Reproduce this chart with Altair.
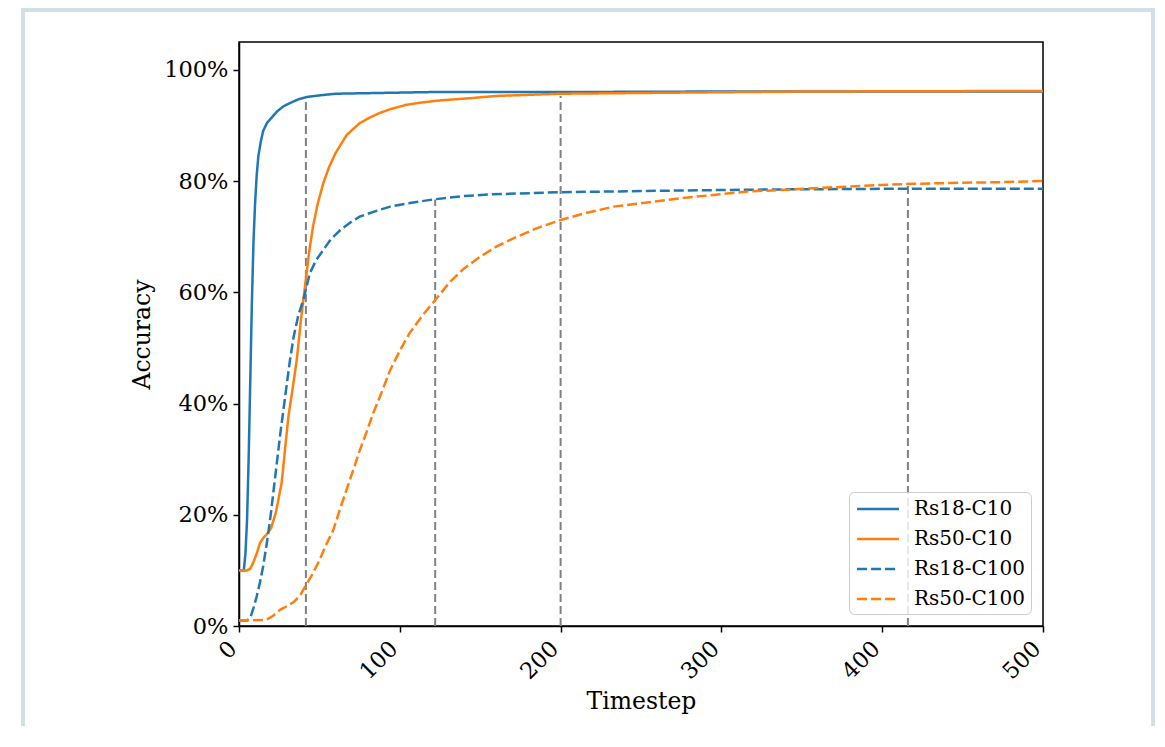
import altair as alt
import pandas as pd

series_names = ["Rs18-C10", "Rs50-C10", "Rs18-C100", "Rs50-C100"]
series_colors = ["#1f77b4", "#ff7f0e", "#1f77b4", "#ff7f0e"]
series_dashes = [[1, 0], [1, 0], [10, 4], [10, 4]]

rs18_c10_t = [0, 3, 4, 5, 6, 7, 8, 9, 10, 11, 12, 13.5, 15, 17.5, 20, 24, 28, 33, 37, 42, 50, 60, 80, 100, 120, 200, 300, 500]
rs18_c10_v = [10, 10, 13, 19, 30, 44, 58, 69, 76, 81, 84.4, 87, 89, 90.5, 91.3, 92.6, 93.5, 94.2, 94.7, 95.1, 95.4, 95.7, 95.8, 95.9, 96.0, 96.0, 96.1, 96.1]

rs50_c10_t = [0, 5, 7, 9, 11, 13, 15, 17, 20, 23, 26.5, 28.6, 30.7, 33, 36, 38.5, 41, 43.5, 46, 49, 52.4, 56, 60, 67, 75, 82, 88, 95, 104, 113, 125, 144, 160, 200, 275, 350, 500]
rs50_c10_v = [10, 10, 10.3, 11.5, 13, 14.9, 15.8, 16.4, 17.6, 20.5, 25.7, 31.7, 37.6, 42, 48, 55, 61, 67, 71.8, 76, 79.6, 82.5, 85, 88.3, 90.4, 91.5, 92.3, 93, 93.7, 94.1, 94.5, 94.9, 95.3, 95.7, 95.9, 96.1, 96.2]

rs18_c100_t = [0, 5, 7, 9, 11, 13, 15, 17, 18.2, 20, 21.3, 23, 24.5, 26, 27.6, 29.5, 31.7, 34, 37, 40, 44, 48, 52.4, 57, 63, 69, 75, 85, 94, 105, 121, 140, 156, 200, 275, 336, 400, 450, 500]
rs18_c100_v = [1, 1, 1.5, 3.2, 5.3, 7.8, 10.7, 14.3, 16.7, 20.6, 23.9, 28, 31.7, 35.3, 38.8, 43, 47.8, 52, 56, 58.6, 63.4, 65.8, 67.6, 69.5, 71.2, 72.5, 73.6, 74.6, 75.4, 76, 76.7, 77.3, 77.6, 78.0, 78.3, 78.5, 78.6, 78.6, 78.6]

rs50_c100_t = [0, 17, 21, 25.5, 30, 34, 38, 42, 46, 50, 54, 58.7, 63, 67, 71, 75, 79.5, 83.5, 88.7, 94, 100, 106, 114, 122, 131, 140, 150, 160, 170.6, 185, 200, 215, 233, 255, 274, 295, 316, 337, 357, 378, 399, 420, 450, 475, 500]
rs50_c100_v = [1, 1.1, 1.8, 2.9, 3.6, 4.3, 5.5, 7.5, 9.5, 11.8, 14.5, 17.3, 21.2, 24.6, 28, 31.5, 35, 38.3, 42, 46, 49.5, 52.6, 55.8, 58.6, 61.8, 64.3, 66.4, 68.2, 69.7, 71.5, 73, 74.2, 75.4, 76.2, 76.9, 77.5, 78.1, 78.4, 78.7, 79.0, 79.3, 79.5, 79.7, 79.8, 80.0]

marker_t = [41.6, 122, 200, 416]
marker_top = [95.0, 76.7, 95.3, 79.2]

y_ticks = [0, 0.2, 0.4, 0.6, 0.8, 1.0]
x_ticks = [0, 100, 200, 300, 400, 500]

rows = []
for name, ts, vs in zip(series_names,
                        [rs18_c10_t, rs50_c10_t, rs18_c100_t, rs50_c100_t],
                        [rs18_c10_v, rs50_c10_v, rs18_c100_v, rs50_c100_v]):
    for i, (t, v) in enumerate(zip(ts, vs)):
        rows.append({"series": name, "t": t, "acc": v / 100.0, "idx": i})
df = pd.DataFrame(rows)

markers = pd.DataFrame({"t": marker_t, "top": [v / 100.0 for v in marker_top], "zero": [0.0] * 4})

FONT = "DejaVu Serif"

x_scale = alt.Scale(domain=[0, 500], nice=False, zero=False)
y_scale = alt.Scale(domain=[0, 1.05], nice=False)

x_axis = alt.Axis(values=x_ticks, title="Timestep", labelAngle=315, labelAlign="right",
                  labelBaseline="top", format="d", grid=False, labelOffset=-14)
y_axis = alt.Axis(values=y_ticks, title="Accuracy", format=".0%", grid=False)

rules = alt.Chart(markers).mark_rule(color="#808080", strokeWidth=2, strokeDash=[8, 4]).encode(
    x=alt.X("t:Q", scale=x_scale, axis=x_axis),
    y=alt.Y("zero:Q", scale=y_scale, axis=y_axis),
    y2="top:Q",
)

leg = alt.Legend(title=None, orient="none", legendX=610, legendY=450)
lines = alt.Chart(df).mark_line(strokeWidth=2.5).encode(
    x=alt.X("t:Q", scale=x_scale, axis=x_axis),
    y=alt.Y("acc:Q", scale=y_scale, axis=y_axis),
    color=alt.Color("series:N", scale=alt.Scale(domain=series_names, range=series_colors),
                    sort=series_names, legend=leg),
    strokeDash=alt.StrokeDash("series:N", scale=alt.Scale(domain=series_names, range=series_dashes),
                              sort=series_names, legend=leg),
    order="idx:Q",
)

frame_df = pd.DataFrame({"k": [0]})
frame = alt.Chart(frame_df).mark_rect(fill=None, stroke="#d1e0e6", strokeWidth=4).encode(
    x=alt.value(-216), x2=alt.value(914), y=alt.value(-32), y2=alt.value(760)
)

chart = alt.layer(frame, rules, lines).properties(
    width=804, height=584,
    autosize=alt.AutoSizeParams(type="none"),
    padding={"left": 231, "top": 34, "right": 112, "bottom": 100},
    background="white",
).configure_view(
    stroke="black", strokeWidth=1.5
).configure_axis(
    labelFont=FONT, titleFont=FONT, labelFontSize=22.5, titleFontSize=23.5,
    titleFontWeight="normal", labelColor="black", titleColor="black",
    domainColor="black", domainWidth=1.5, tickColor="black", tickWidth=1.5, tickSize=6,
    labelPadding=5,
).configure_axisX(
    titlePadding=6,
).configure_axisY(
    titlePadding=9,
).configure_legend(
    labelFont=FONT, labelFontSize=20, labelColor="black",
    symbolType="M-1.95,0H1.95", symbolSize=462, symbolStrokeWidth=2.5,
    symbolOffset=12, labelOffset=24,
    strokeColor="#cccccc", fillColor="rgba(255,255,255,0.8)", cornerRadius=5,
    padding=5, rowPadding=8,
)

chart.save("out.html", embed_options={"renderer": "svg", "actions": False})
